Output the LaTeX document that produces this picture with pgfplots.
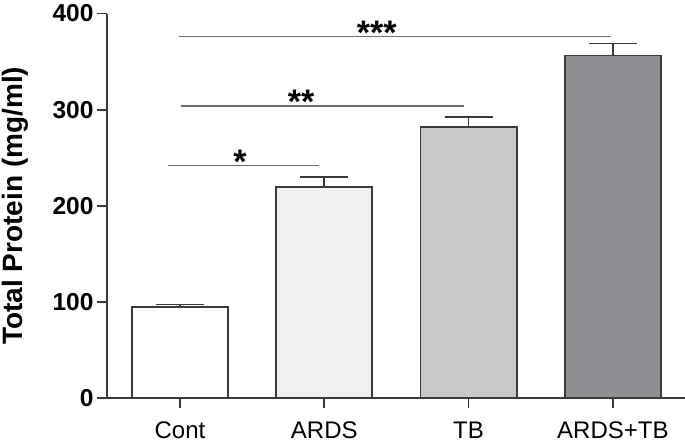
\documentclass[border=0pt]{standalone}
\usepackage{pgfplots}
\pgfplotsset{compat=1.18}
\usepackage{fontspec}
\setmainfont{Liberation Sans}
\definecolor{edge}{HTML}{3A3A3A}
\definecolor{sig}{HTML}{6E6E6E}
\definecolor{cA}{HTML}{F0F0F0}
\definecolor{cB}{HTML}{C8C8CA}
\definecolor{cC}{HTML}{8E8F92}
\begin{document}
\begin{tikzpicture}
\begin{axis}[
  at={(0,0)}, anchor=south west,
  scale only axis, width=578pt, height=384.5pt,
  xmin=-0.506, xmax=3.5, ymin=0, ymax=400,
  axis lines=left, axis line style={-, draw=edge, line width=1.8pt},
  xtick={0,1,2,3}, xticklabels={Cont,ARDS,TB,ARDS+TB},
  ytick={0,100,200,300,400},
  tick align=outside, major tick length=10pt,
  tick style={draw=edge, line width=1.8pt},
  xticklabel style={font=\fontsize{24}{28}\selectfont, yshift=-10pt},
  yticklabel style={font=\fontsize{24.5}{28}\selectfont\bfseries},
  /pgf/number format/assume math mode=true,
  ylabel={Total Protein (mg/ml)},
  ylabel style={font=\fontsize{28}{32}\selectfont\bfseries, at={(axis description cs:-0.159,0.5)}, anchor=center},
  clip=false,
]
\addplot[ybar, bar shift=0pt, bar width=0.666, fill=white, draw=edge, line width=1.8pt,
  error bars/.cd, y dir=plus, y explicit,
  error bar style={draw=edge, line width=1.8pt},
  error mark options={rotate=90, mark size=24pt, draw=edge, line width=1.8pt}]
  coordinates {(0,94.5) +- (0,2.8)};
\addplot[ybar, bar shift=0pt, bar width=0.666, fill=cA, draw=edge, line width=1.8pt,
  error bars/.cd, y dir=plus, y explicit,
  error bar style={draw=edge, line width=1.8pt},
  error mark options={rotate=90, mark size=24pt, draw=edge, line width=1.8pt}]
  coordinates {(1,219.3) +- (0,10.3)};
\addplot[ybar, bar shift=0pt, bar width=0.666, fill=cB, draw=edge, line width=1.8pt,
  error bars/.cd, y dir=plus, y explicit,
  error bar style={draw=edge, line width=1.8pt},
  error mark options={rotate=90, mark size=24pt, draw=edge, line width=1.8pt}]
  coordinates {(2,281.8) +- (0,10.2)};
\addplot[ybar, bar shift=0pt, bar width=0.666, fill=cC, draw=edge, line width=1.8pt,
  error bars/.cd, y dir=plus, y explicit,
  error bar style={draw=edge, line width=1.8pt},
  error mark options={rotate=90, mark size=24pt, draw=edge, line width=1.8pt}]
  coordinates {(3,356.3) +- (0,12.5)};
\addplot[draw=sig, line width=1.7pt, mark=none] coordinates {(-0.085,242) (0.96,242)};
\addplot[draw=sig, line width=1.7pt, mark=none] coordinates {(0.007,304) (1.97,304)};
\addplot[draw=sig, line width=1.7pt, mark=none] coordinates {(-0.005,376) (2.99,376)};
\node[anchor=base, font=\fontsize{34}{34}\selectfont\bfseries, inner sep=0pt] at (axis cs:0.416,233.5) {*};
\node[anchor=base, font=\fontsize{34}{34}\selectfont\bfseries, inner sep=0pt] at (axis cs:0.84,295.8) {**};
\node[anchor=base, font=\fontsize{34}{34}\selectfont\bfseries, inner sep=0pt] at (axis cs:1.364,367.5) {***};
\end{axis}
\pgfresetboundingbox
\path[use as bounding box] (-107pt,-47pt) rectangle (578pt,398pt);
\end{tikzpicture}
\end{document}
